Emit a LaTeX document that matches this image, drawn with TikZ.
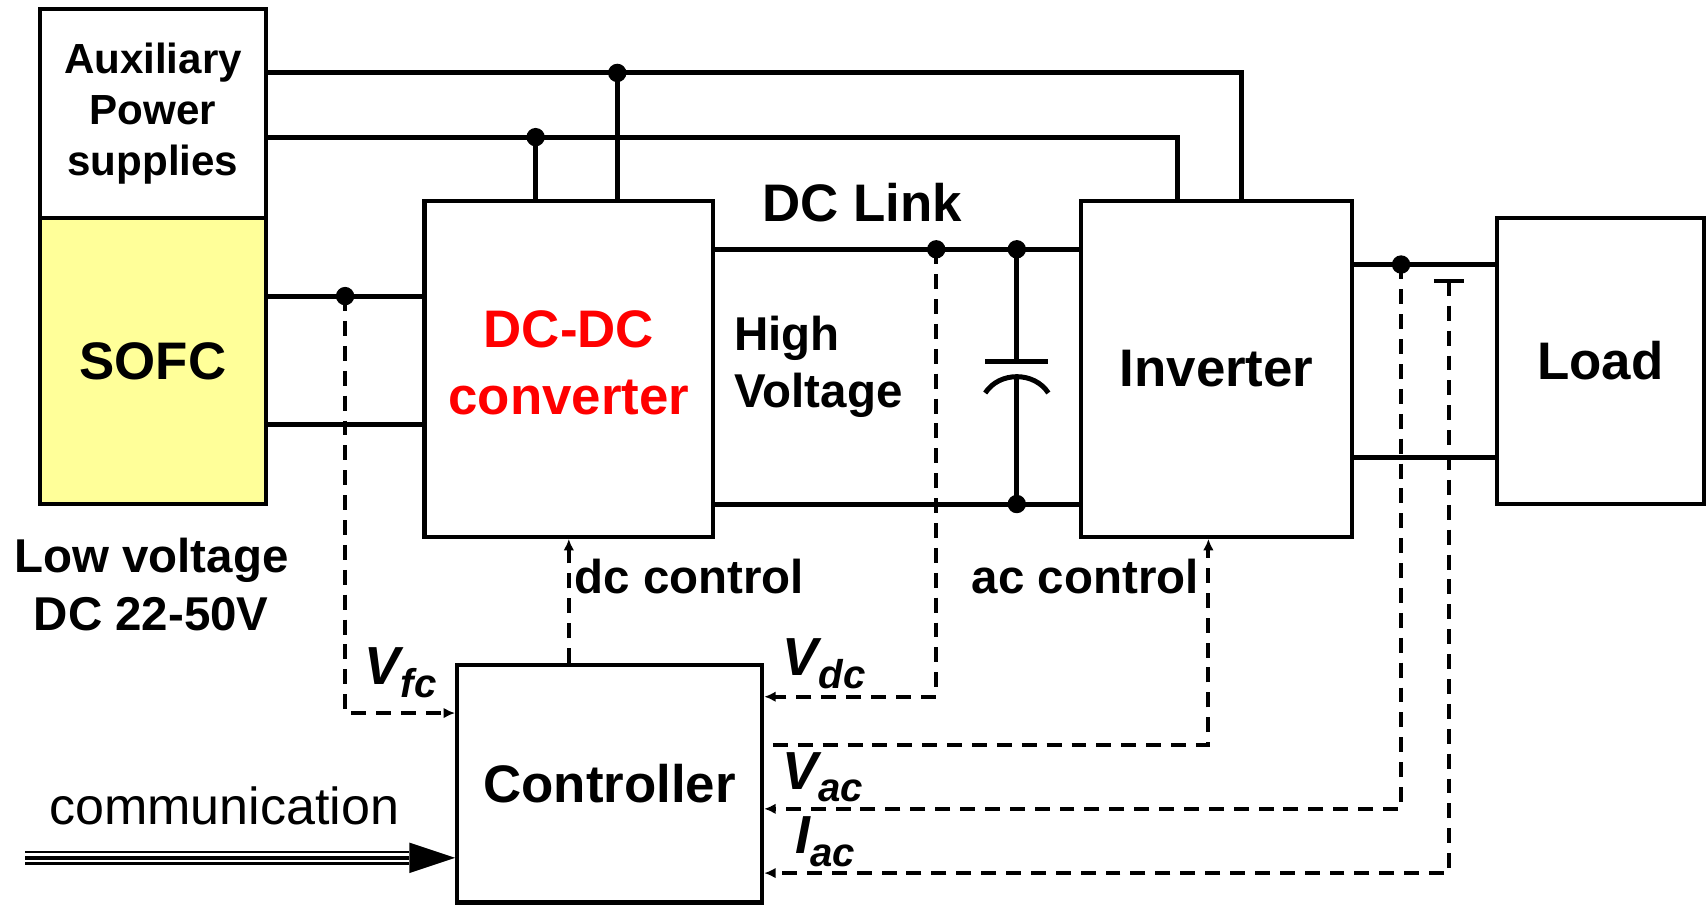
\documentclass[tikz,border=0pt]{standalone}
\usepackage{fontspec}
\setmainfont{Liberation Sans}
\usetikzlibrary{calc, arrows.meta}
\definecolor{fcyellow}{RGB}{255,255,153}
\definecolor{convred}{RGB}{255,0,0}
\tikzset{
  block/.style={draw, line width=1.1pt, align=center, inner sep=0pt, font=\bfseries\fontsize{13.8}{16.2}\selectfont},
  wire/.style={line width=1.3pt},
  sense/.style={line width=1pt, dash pattern=on 3.9pt off 2.6pt, -{Latex[length=3pt,width=2.8pt]}},
  junction/.style={circle, fill, inner sep=0pt, minimum size=4.8pt},
  lbl/.style={align=center, inner sep=0pt, font=\bfseries\fontsize{12.4}{15}\selectfont},
  sig/.style={inner sep=0pt, font=\bfseries\itshape\fontsize{14}{16}\selectfont},
}
\newcommand{\sigsub}[1]{\raisebox{-0.45ex}{\fontsize{10.5}{12}\selectfont #1}}

\begin{document}
\begin{tikzpicture}[x=0.01cm, y=-0.01cm]
\useasboundingbox (0,0) rectangle (1568,831);
% Blocks
\node[block, fill=fcyellow, minimum width=2.07cm, minimum height=2.63cm] (sofc) at (140.5,331.5) {SOFC};
\node[block, minimum width=2.07cm, minimum height=1.92cm, font=\bfseries\fontsize{11}{13.3}\selectfont] (aux) at (140.5,104) {Auxiliary\\Power\\supplies};
\node[block, minimum width=2.65cm, minimum height=3.08cm, text=convred, text depth=3.4pt, font=\bfseries\fontsize{13.8}{17.3}\selectfont] (dcdc) at (522.5,339) {DC-DC\\converter};
\node[block, minimum width=2.49cm, minimum height=3.08cm] (inv) at (1117.5,339) {Inverter};
\node[block, minimum width=1.90cm, minimum height=2.63cm] (load) at (1470,331.5) {Load};
\node[block, minimum width=2.80cm, minimum height=2.18cm] (ctrl) at (560,720) {Controller};
% Junctions
\coordinate (j1) at (567,67);
\coordinate (j2) at (492,126);
\coordinate (jfc) at (317,272);
\coordinate (jdc) at (860,229);
\coordinate (jc1) at (934,229);
\coordinate (jc2) at (934,463);
\coordinate (jac) at (1287,243);
\coordinate (sens) at (1331,258);
% Auxiliary supply rails
\draw[wire] (aux.east |- j1) -- (j1) -| (1140,0 |- inv.north);
\draw[wire] (j1) -- (j1 |- dcdc.north);
\draw[wire] (aux.east |- j2) -- (j2) -| (1082,0 |- inv.north);
\draw[wire] (j2) -- (j2 |- dcdc.north);
% SOFC to converter
\draw[wire] (sofc.east |- jfc) -- (dcdc.west |- jfc);
\draw[wire] (sofc.east |- 0,390) -- (dcdc.west |- 0,390);
% DC link
\draw[wire] (dcdc.east |- jc1) -- (inv.west |- jc1);
\draw[wire] (dcdc.east |- jc2) -- (inv.west |- jc2);
% Capacitor
\draw[wire] (jc1) -- (934,332);
\draw[wire] (905,332) -- (963,332);
\draw[wire] (905,361) .. controls (918,341) and (950,341) .. (963,361);
\draw[wire] (934,346) -- (jc2);
% Inverter to load
\draw[wire] (inv.east |- jac) -- (load.west |- jac);
\draw[wire] (inv.east |- 0,420) -- (load.west |- 0,420);
% Current sensor
\draw[line width=1.1pt] (1317,258) -- (1345,258);
% Dots
\foreach \j in {j1,j2,jfc,jdc,jc1,jc2,jac}
  \node[junction] at (\j) {};
% Measured signals and control
\draw[sense] (jfc) |- (ctrl.west |- 0,655);
\draw[sense] (dcdc.south |- ctrl.north) -- (dcdc.south);
\draw[sense] (jdc) |- (ctrl.east |- 0,640);
\coordinate (acst) at (710,684);
\draw[sense] (acst) -| (1110,0 |- inv.south);
\draw[sense] (jac) |- (ctrl.east |- 0,743);
\draw[sense] (sens) |- (ctrl.east |- 0,802);
% Communication link
\coordinate (comm) at (23,788);
\coordinate (commhead) at (376,788);
\draw[line width=3.8pt] (comm) -- (commhead);
\draw[line width=2.3pt, white] (comm) -- (commhead);
\draw[line width=1pt] (comm) -- (commhead);
\fill (commhead) ++(0,-14) -- (ctrl.west |- comm) -- ($(commhead)+(0,14)$) -- cycle;
\node[inner sep=0pt, font=\fontsize{13.6}{16}\selectfont] (commlbl) at (206,740) {communication};
% Labels
\node[lbl, font=\bfseries\fontsize{13.8}{16}\selectfont] (dclink) at (792,186) {DC Link};
\node[lbl, align=left, anchor=west] (hv) at (674,337) {High\\Voltage};
\node[lbl] (lv) at (139,537) {Low voltage\\DC 22-50V};
\node[lbl, anchor=west] (dcctl) at (527,530) {dc control};
\node[lbl] (acctl) at (997,530) {ac control};
\node[sig] (vfc) at (368,618) {V\sigsub{fc}};
\node[sig] (vdc) at (757,610) {V\sigsub{dc}};
\node[sig] (vac) at (756,714) {V\sigsub{ac}};
\node[sig] (iac) at (758,773) {I\sigsub{ac}};
\end{tikzpicture}
\end{document}
